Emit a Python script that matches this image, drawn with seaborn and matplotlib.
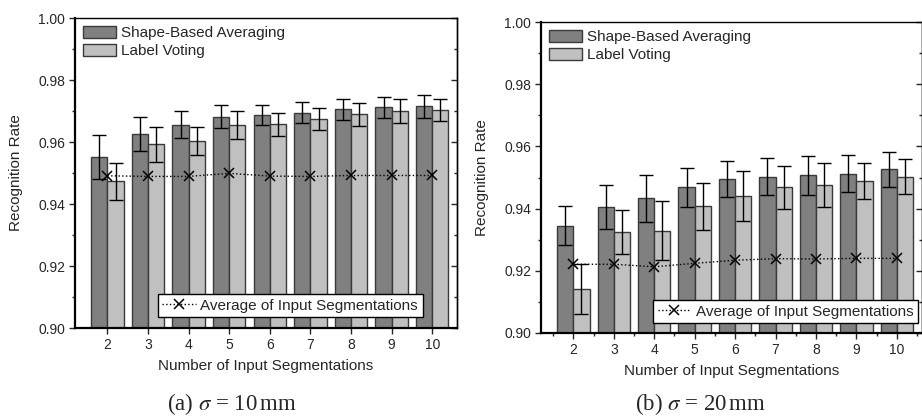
import numpy as np
import pandas as pd
import matplotlib
matplotlib.use('Agg')
import matplotlib.pyplot as plt
import seaborn as sns
from matplotlib.patches import Patch
from matplotlib.lines import Line2D
from matplotlib.ticker import MultipleLocator, FormatStrFormatter

# Datos (tasa de reconocimiento por número de segmentaciones)
n_seg = [2, 3, 4, 5, 6, 7, 8, 9, 10]
metodos = ['Shape-Based Averaging', 'Label Voting']

# (a) sigma = 10 mm
sba_10 = [0.9551, 0.9625, 0.9656, 0.9682, 0.9688, 0.9694, 0.9706, 0.9712, 0.9715]
sba_10_err = [0.0070, 0.0055, 0.0043, 0.0038, 0.0032, 0.0034, 0.0034, 0.0034, 0.0036]
lv_10 = [0.9473, 0.9593, 0.9603, 0.9654, 0.9657, 0.9675, 0.9689, 0.9700, 0.9704]
lv_10_err = [0.0060, 0.0056, 0.0046, 0.0045, 0.0038, 0.0036, 0.0036, 0.0038, 0.0036]
avg_10 = [0.9491, 0.9489, 0.9489, 0.9499, 0.9490, 0.9489, 0.9492, 0.9492, 0.9492]

# (b) sigma = 20 mm
sba_20 = [0.9345, 0.9404, 0.9433, 0.9468, 0.9495, 0.9503, 0.9507, 0.9512, 0.9526]
sba_20_err = [0.0063, 0.0071, 0.0076, 0.0062, 0.0058, 0.0059, 0.0062, 0.0060, 0.0057]
lv_20 = [0.9141, 0.9325, 0.9329, 0.9407, 0.9440, 0.9468, 0.9475, 0.9489, 0.9503]
lv_20_err = [0.0080, 0.0072, 0.0095, 0.0075, 0.0080, 0.0068, 0.0071, 0.0059, 0.0055]
avg_20 = [0.9221, 0.9221, 0.9213, 0.9224, 0.9234, 0.9239, 0.9238, 0.9240, 0.9240]

sns.set_style('ticks')
plt.rcParams['font.family'] = ['Liberation Sans', 'DejaVu Sans']
plt.rcParams['mathtext.fontset'] = 'stix'

colores = ['#808080', '#c0c0c0']
borde = '#3a3a3a'

fig = plt.figure(figsize=(9.22, 4.2), dpi=100)
ax_a = fig.add_axes([75/922, 1-328/420, (457-75)/922, 310/420])
ax_b = fig.add_axes([541/922, 1-333/420, (921.5-541)/922, 311/420])


def panel(ax, sba, sba_err, lv, lv_err, avg, leg_anchor, minor_x):
    df = pd.DataFrame({
        'n': n_seg * 2,
        'rate': sba + lv,
        'err': sba_err + lv_err,
        'metodo': [metodos[0]] * len(n_seg) + [metodos[1]] * len(n_seg),
    })
    sns.barplot(data=df, x='n', y='rate', hue='metodo', hue_order=metodos,
                palette=colores, saturation=1, native_scale=True, width=0.8,
                errorbar=None, edgecolor=borde, linewidth=1, legend=False, ax=ax)
    # barras de error sobre el centro de cada barra
    barras = [p for p in ax.patches][:len(df)]
    xs = [b.get_x() + b.get_width() / 2 for b in barras]
    ax.errorbar(xs, df['rate'], yerr=df['err'], fmt='none', ecolor='black',
                elinewidth=1, capsize=5, capthick=1, zorder=4)
    # promedio de las segmentaciones de entrada
    ax.plot(n_seg, avg, ls=':', color='black', lw=1, marker='x',
            markersize=6.5, markeredgewidth=1.1, zorder=5)

    ax.set_xlim(1.2, 10.61)
    ax.set_ylim(0.90, 1.00)
    ax.set_xticks(n_seg)
    ax.set_xticklabels([str(v) for v in n_seg])
    ax.yaxis.set_major_locator(MultipleLocator(0.02))
    ax.yaxis.set_minor_locator(MultipleLocator(0.01))
    ax.yaxis.set_major_formatter(FormatStrFormatter('%.2f'))
    if minor_x:
        ax.xaxis.set_minor_locator(MultipleLocator(0.5))
    ax.tick_params(axis='both', which='major', direction='out', length=4,
                   width=1, labelsize=10, pad=3)
    ax.tick_params(axis='both', which='minor', direction='out', length=2.5, width=1)
    ax.tick_params(axis='x', which='minor', bottom=minor_x)

    sec = ax.secondary_yaxis('right')
    sec.yaxis.set_major_locator(MultipleLocator(0.02))
    sec.yaxis.set_minor_locator(MultipleLocator(0.01))
    sec.tick_params(which='major', direction='in', length=4, width=1, labelright=False)
    sec.tick_params(which='minor', direction='in', length=2.5, width=1)
    sec.spines['right'].set_linewidth(1)

    for s in ['left', 'bottom']:
        ax.spines[s].set_linewidth(1.6)
    ax.spines['top'].set_linewidth(1)
    ax.spines['right'].set_linewidth(1)
    for s in ax.spines.values():
        s.set_color('black')

    ax.set_xlabel('Number of Input Segmentations', fontsize=11, labelpad=5)
    ax.set_ylabel('Recognition Rate', fontsize=11, labelpad=11)

    h1 = [Patch(facecolor=colores[0], edgecolor=borde, linewidth=1),
          Patch(facecolor=colores[1], edgecolor=borde, linewidth=1)]
    leg1 = ax.legend(h1, metodos, loc='upper left', frameon=False, fontsize=11,
                     handlelength=2.2, handleheight=0.85, labelspacing=0.25,
                     handletextpad=0.3, borderaxespad=0.3, borderpad=0.2)
    ax.add_artist(leg1)
    h2 = [Line2D([], [], ls=':', color='black', lw=1, marker='x',
                 markersize=6.5, markeredgewidth=1.1)]
    leg2 = ax.legend(h2, ['Average of Input Segmentations'], loc='lower right',
                     bbox_to_anchor=leg_anchor, fontsize=11, fancybox=False,
                     framealpha=1, edgecolor='black', borderaxespad=0,
                     handlelength=2.2, handletextpad=0.3, borderpad=0.3)
    leg2.get_frame().set_linewidth(1)


panel(ax_a, sba_10, sba_10_err, lv_10, lv_10_err, avg_10, (0.910, 0.035), False)
panel(ax_b, sba_20, sba_20_err, lv_20, lv_20_err, avg_20, (0.991, 0.031), True)

fig.text(232/922, 1-404/420, '(a) $\\sigma$ = 10$\\,$mm', ha='center', va='center',
         fontsize=16.5, family='Liberation Serif')
fig.text(700/922, 1-404/420, '(b) $\\sigma$ = 20$\\,$mm', ha='center', va='center',
         fontsize=16.5, family='Liberation Serif')

fig.savefig('out.png', dpi=100)
plt.close(fig)
